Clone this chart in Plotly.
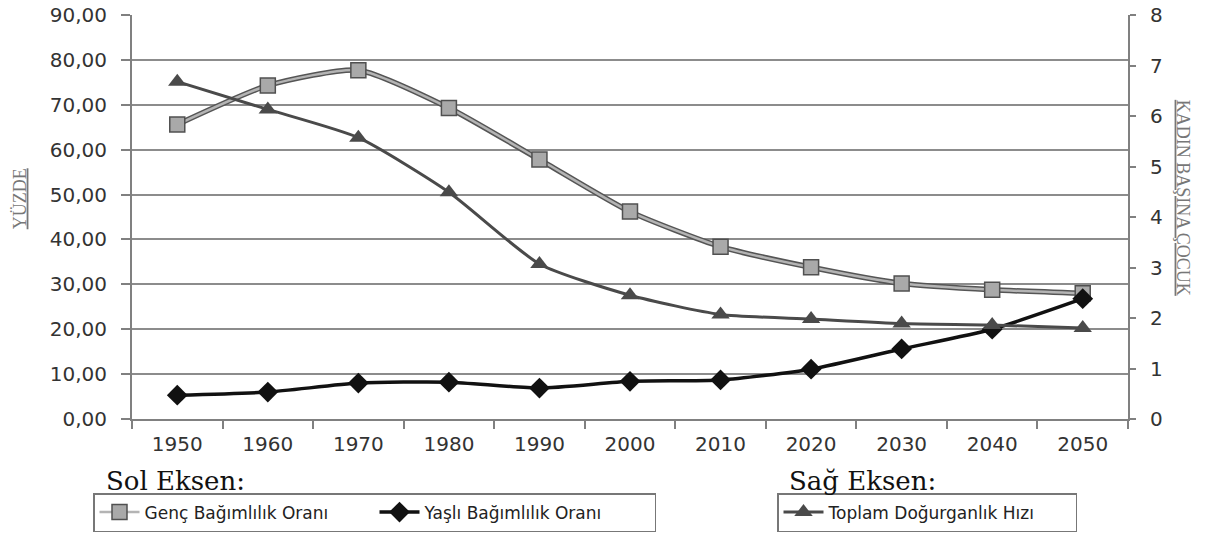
import plotly.graph_objects as go

years = ["1950", "1960", "1970", "1980", "1990", "2000", "2010", "2020", "2030", "2040", "2050"]
genc = [65.6, 74.3, 77.7, 69.3, 57.8, 46.2, 38.4, 33.8, 30.2, 28.8, 28.0]
yasli = [5.3, 6.0, 8.0, 8.2, 6.9, 8.4, 8.7, 11.1, 15.6, 20.0, 26.8]
toplam = [6.68, 6.13, 5.57, 4.49, 3.07, 2.45, 2.07, 1.98, 1.89, 1.86, 1.80]

left_ticks = [0, 10, 20, 30, 40, 50, 60, 70, 80, 90]
left_labels = ["0,00", "10,00", "20,00", "30,00", "40,00", "50,00", "60,00", "70,00", "80,00", "90,00"]
right_ticks = [0, 1, 2, 3, 4, 5, 6, 7, 8]

fig = go.Figure()

# Genç: dark outline under a light line
fig.add_trace(go.Scatter(x=years, y=genc, mode="lines", line=dict(color="#555555", width=5.5, shape="spline", smoothing=0.6),
                         showlegend=False, hoverinfo="skip"))
fig.add_trace(go.Scatter(x=years, y=genc, mode="lines+markers", name="Genç Bağımlılık Oranı",
                         line=dict(color="#b4b4b4", width=2.5, shape="spline", smoothing=0.6),
                         marker=dict(symbol="square", size=15, color="#a9a9a9", line=dict(color="#505050", width=1.5)),
                         legend="legend"))
fig.add_trace(go.Scatter(x=years, y=yasli, mode="lines+markers", name="Yaşlı Bağımlılık Oranı",
                         line=dict(color="#111111", width=3.5, shape="spline", smoothing=0.6),
                         marker=dict(symbol="diamond", size=16, color="#111111"),
                         legend="legend"))
fig.add_trace(go.Scatter(x=years, y=toplam, mode="lines+markers", name="Toplam Doğurganlık Hızı",
                         line=dict(color="#4a4a4a", width=3, shape="spline", smoothing=0.6),
                         marker=dict(symbol="triangle-up", size=16, color="#4a4a4a"),
                         yaxis="y2", legend="legend2"))

axis_font = dict(family="DejaVu Sans, sans-serif", size=20, color="#333333")
legend_font = dict(family="DejaVu Sans, sans-serif", size=17, color="#222222")
serif = "DejaVu Serif, Liberation Serif, serif"

fig.update_layout(
    width=1212, height=533,
    margin=dict(l=132, r=84, t=15, b=114, autoexpand=False),
    paper_bgcolor="white", plot_bgcolor="white",
    xaxis=dict(type="category", tickson="boundaries", ticks="outside", ticklen=8, tickcolor="#808080",
               tickwidth=2, showline=True, linecolor="#808080", linewidth=2, showgrid=False,
               tickfont=axis_font, range=[-0.5, 10.5], automargin=False, ticklabelstandoff=6),
    yaxis=dict(range=[0, 90], tickvals=left_ticks, ticktext=left_labels, ticks="outside", ticklen=9,
               tickcolor="#808080", tickwidth=2, showline=True, linecolor="#808080", linewidth=2,
               showgrid=True, gridcolor="#8c8c8c", gridwidth=1.8, tickfont=axis_font, zeroline=False,
               automargin=False, ticklabelstandoff=10),
    yaxis2=dict(range=[0, 8], tickvals=right_ticks, overlaying="y", side="right", ticks="outside", ticklen=6,
                tickcolor="#808080", tickwidth=2, showline=True, linecolor="#808080", linewidth=2,
                showgrid=False, tickfont=axis_font, zeroline=False, automargin=False, ticklabelstandoff=10),
    legend=dict(xref="container", yref="container", x=93/1212, y=1-532/533, xanchor="left", yanchor="bottom",
                orientation="h", bordercolor="#777777", borderwidth=1.5, bgcolor="white",
                font=legend_font, itemwidth=40, entrywidth=225, tracegroupgap=0),
    legend2=dict(xref="container", yref="container", x=777/1212, y=1-532/533, xanchor="left", yanchor="bottom",
                 orientation="h", bordercolor="#777777", borderwidth=1.5, bgcolor="white",
                 font=legend_font, itemwidth=40, entrywidth=242),
    showlegend=True,
    annotations=[
        dict(text="Sol Eksen:", xref="paper", yref="paper", x=-0.028, y=-0.153, xanchor="left", yanchor="middle",
             showarrow=False, font=dict(family=serif, size=26, color="#111111")),
        dict(text="Sağ Eksen:", xref="paper", yref="paper", x=0.658, y=-0.153, xanchor="left", yanchor="middle",
             showarrow=False, font=dict(family=serif, size=26, color="#111111")),
        dict(text="<u>YÜZDE</u>", xref="paper", yref="paper", x=-0.113, y=0.545, xanchor="center", yanchor="middle",
             textangle=-90, showarrow=False,
             font=dict(family="Liberation Serif, serif", size=18, color="#777777")),
        dict(text="<u>KADIN BAŞINA ÇOCUK</u>", xref="paper", yref="paper", x=1.056, y=0.548, xanchor="center",
             yanchor="middle", textangle=90, showarrow=False,
             font=dict(family="Liberation Serif, serif", size=18, color="#777777")),
    ],
)

fig.write_html("out.html")
